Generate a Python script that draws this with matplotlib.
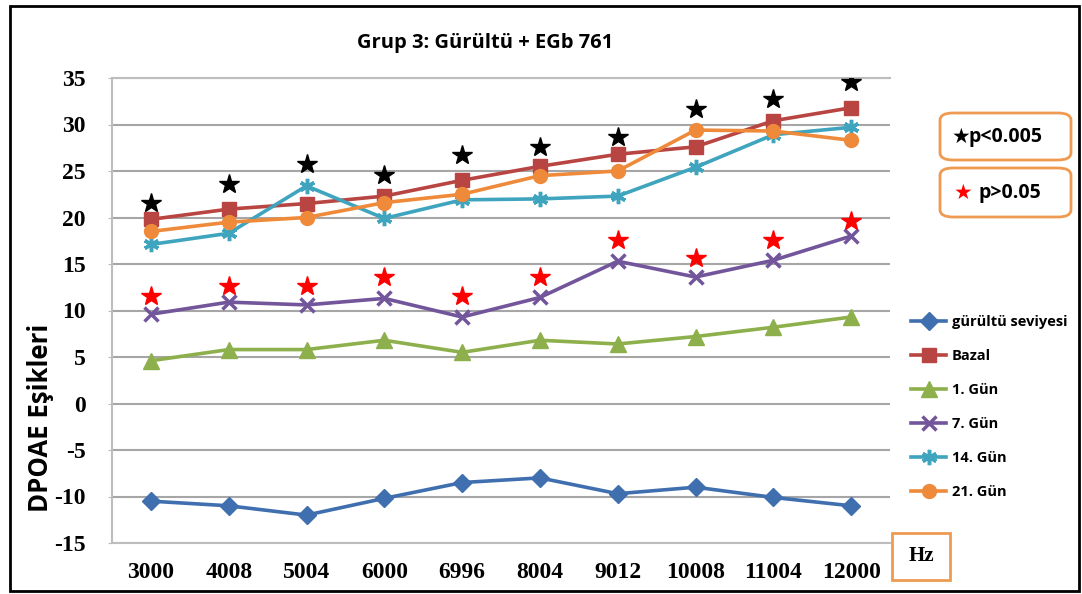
import numpy as np
import matplotlib
matplotlib.use("Agg")
import matplotlib.pyplot as plt
from matplotlib.patches import Rectangle, FancyBboxPatch

plt.rcParams["axes.unicode_minus"] = False

freqs = ["3000", "4008", "5004", "6000", "6996", "8004", "9012", "10008", "11004", "12000"]
gurultu = [-10.5, -11.0, -12.0, -10.2, -8.5, -8.0, -9.7, -9.0, -10.1, -11.0]
bazal = [19.8, 20.9, 21.5, 22.3, 24.0, 25.5, 26.8, 27.6, 30.4, 31.8]
gun1 = [4.6, 5.8, 5.8, 6.8, 5.5, 6.8, 6.4, 7.2, 8.2, 9.3]
gun7 = [9.6, 10.9, 10.6, 11.3, 9.3, 11.4, 15.3, 13.6, 15.4, 18.0]
gun14 = [17.1, 18.3, 23.4, 19.9, 21.9, 22.0, 22.3, 25.4, 28.9, 29.7]
gun21 = [18.5, 19.5, 20.0, 21.6, 22.5, 24.5, 25.0, 29.4, 29.3, 28.3]
star_black = [21.6, 23.6, 25.7, 24.6, 26.7, 27.6, 28.7, 31.7, 32.7, 34.6]
star_red = [11.6, 12.6, 12.6, 13.6, 11.6, 13.6, 17.6, 15.6, 17.6, 19.6]

sans = ["Open Sans", "DejaVu Sans"]
serif = "Liberation Serif"
W, H = 1082, 594

fig = plt.figure(figsize=(10.82, 5.94), dpi=100)
ax = fig.add_axes([112 / W, 1 - 543 / H, 778 / W, 465 / H])
x = np.arange(len(freqs))

asterisk = (6, 2, 0)
series = [
    ("gürültü seviyesi", gurultu, "#3F6FAE", "D", 9),
    ("Bazal", bazal, "#B84541", "s", 10),
    ("1. Gün", gun1, "#8DB04C", "^", 11),
    ("7. Gün", gun7, "#72559A", "x", 10),
    ("14. Gün", gun14, "#3FA4BE", asterisk, 11),
    ("21. Gün", gun21, "#EE8A3A", "o", 10),
]
for name, vals, col, mk, ms in series:
    ax.plot(x, vals, color=col, lw=2.6, marker=mk, ms=ms, mfc=col, mec=col,
            mew=2.5 if mk in ("x", asterisk) else 1, label=name, zorder=3)

ax.plot(x, star_black, ls="none", marker="*", ms=15, color="black", zorder=4)
ax.plot(x, star_red, ls="none", marker="*", ms=15, color="#FF0000", zorder=4)

ax.set_xlim(-0.5, 9.5)
ax.set_ylim(-15, 35)
ax.set_yticks(range(-15, 36, 5))
ax.set_xticks(x)
ax.set_xticklabels(freqs)
ax.grid(axis="y", color="#A6A6A6", lw=1.5)
ax.set_axisbelow(True)
ax.spines["right"].set_visible(False)
for s in ["left", "top", "bottom"]:
    ax.spines[s].set_color("#BDBDBD")
    ax.spines[s].set_linewidth(1.5)
ax.tick_params(axis="x", length=0, pad=14)
ax.tick_params(axis="y", length=3, color="#BDBDBD", pad=16)
for lab in ax.get_xticklabels() + ax.get_yticklabels():
    lab.set_fontfamily(serif)
    lab.set_fontweight("bold")
    lab.set_fontsize(17)

fig.text(485 / W, 1 - 43 / H, "Grup 3: Gürültü + EGb 761", ha="center", va="center",
         family=sans, fontweight="bold", fontsize=14.5)
fig.text(41 / W, 1 - 418 / H, "DPOAE Eşikleri", rotation=90, ha="center", va="center",
         family=sans, fontweight="bold", fontsize=18.5)

leg = ax.legend(loc="upper left", bbox_to_anchor=(898 / W, 1 - 302 / H),
                bbox_transform=fig.transFigure, frameon=False, handlelength=2.4,
                labelspacing=1.37, handletextpad=0.4,
                prop={"family": sans, "weight": "bold", "size": 10.5})

# significance boxes
for y0, y1 in [(113, 160), (168, 217)]:
    fig.add_artist(FancyBboxPatch((940 / W, 1 - y1 / H), 131 / W, (y1 - y0) / H,
                                  boxstyle="round,pad=0,rounding_size=0.012",
                                  transform=fig.transFigure, fc="white", ec="#EE9A50", lw=2))
for sc, ptxt, sx, tx, sy in [("black", "p<0.005", 961, 969, 137), ("#FF0000", "p>0.05", 963, 978, 193)]:
    fig.text(sx / W, 1 - sy / H, "★", ha="center", va="center", color=sc,
             family=["DejaVu Sans"], fontsize=15)
    fig.text(tx / W, 1 - sy / H, ptxt, ha="left", va="center",
             color="black", family=sans, fontweight="bold", fontsize=14)

# Hz box
fig.add_artist(Rectangle((892 / W, 1 - 580 / H), 58 / W, 47 / H, transform=fig.transFigure,
                         fc="white", ec="#EE9A50", lw=2))
fig.text(921 / W, 1 - 556 / H, "Hz", ha="center", va="center", family=serif,
         fontweight="bold", fontsize=15)

# outer frame
fig.add_artist(Rectangle((10 / W, 1 - 591 / H), 1069 / W, 585 / H, transform=fig.transFigure,
                         fill=False, ec="black", lw=2))

fig.savefig("out.png", dpi=100)
